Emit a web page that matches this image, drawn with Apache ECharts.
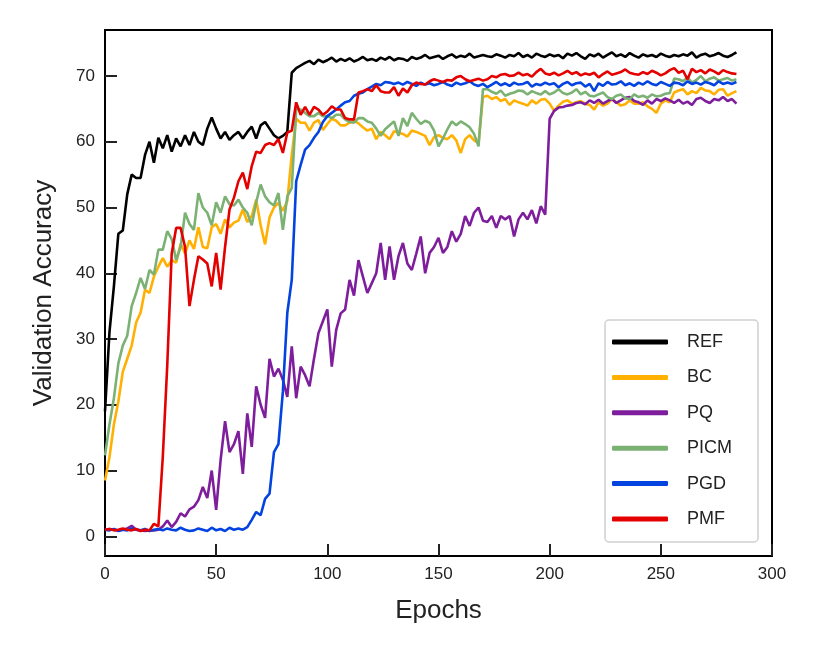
<!DOCTYPE html>
<html>
<head>
<meta charset="utf-8">
<script src="https://cdn.jsdelivr.net/npm/echarts@6/dist/echarts.min.js"></script>
<style>
  html, body { margin: 0; padding: 0; background: #fff; }
  #chart { width: 822px; height: 658px; }
</style>
</head>
<body>
<div id="chart"></div>
<script>
// values read every 2 epochs, 0..284
var epochStep = 2;
var names = ['REF', 'BC', 'PQ', 'PICM', 'PGD', 'PMF'];
var colors = ['#000000', '#ffb000', '#7e1e9c', '#7bb274', '#0343df', '#e50000'];
var yTicks = [0, 10, 20, 30, 40, 50, 60, 70];

var ref = [
  19, 31, 38, 46, 46.5,  52, 55, 54.5, 54.5, 58,  60, 56.8, 60.6, 59, 61,
  58.5, 60.5, 59.3, 61, 59.5,  61.5, 60, 59.5, 62, 63.7,  62, 60.5, 61.5, 60.3, 61,
  61.5, 60.5, 61.5, 62.3, 60.5,  62.5, 63, 62, 61, 60.5,  60.9, 61.5, 70.5, 71.2, 71.6,
  72, 72.3, 71.8, 72.5, 72.1,  72.4, 72.8, 72.2, 72.6, 72.3,  72.7, 72.2, 72.5, 72.9, 72.4,
  72.6, 72.3, 72.8, 72.5, 72.9,  72.4, 72.7, 72.6, 72.3, 72.9,  72.6, 72.8, 73.2, 72.7, 72.9,
  73.1, 72.6, 73, 73.3, 72.8,  73.1, 72.9, 73.4, 72.8, 73,  73.2, 73, 72.9, 73.3, 73.1,
  72.8, 73.2, 73, 73.5, 72.9,  73.2, 72.8, 73.4, 73.1, 72.9,  73.3, 73, 73.2, 72.7, 73.4,
  73.1, 73.5, 73, 72.6, 73.3,  73, 73.4, 72.8, 73.2, 73.6,  73, 73.3, 72.9, 73.5, 73.1,
  72.8, 73.3, 73, 73.2, 72.9,  73.4, 73.1, 72.9, 73.2, 73,  73.3, 73.1, 73.6, 72.8, 73.2,
  73.4, 73, 73.2, 73.5, 73.1,  72.9, 73.2, 73.6
];
var bc = [
  8.5, 12, 17, 20.5, 25,  27, 29, 32.5, 34, 37.5,  37, 39.5, 41, 42.3, 41,
  42, 41.6, 44.5, 43, 45,  43.7, 47, 44, 43.8, 47,  47.5, 46, 48.2, 47, 47.7,
  48, 49.7, 47.8, 48.7, 51.2,  47.3, 44.4, 48.5, 50, 50.7,  49.5, 51, 58, 63.5, 62.9,
  62.9, 61.7, 62.9, 63.3, 61.8,  62.7, 63.5, 63.2, 62.5, 62.5,  62.9, 63.2, 62.8, 62.2, 61.7,
  62, 60.4, 61.5, 61, 60.4,  61.6, 61.4, 61.2, 60.8, 61.7,  61.5, 61.2, 60.9, 59.5, 60.7,
  61, 60.6, 60.4, 61, 60.2,  58.3, 60.4, 61, 60.2, 59.8,  66.8, 67, 66.5, 66.8, 66.2,
  66.5, 65.6, 66.3, 66, 65.8,  65.5, 66.3, 65.8, 66.4, 66.5,  65.8, 64.7, 65.5, 66.1, 66.3,
  65.8, 66, 66.2, 65.8, 65.6,  64.9, 66, 65.5, 65.8, 66.5,  66, 65.5, 65.7, 66.3, 65.8,
  65.8, 66, 65.4, 65, 64.4,  65.8, 66.3, 66, 67.5, 67.8,  68, 67.2, 67.7, 67.4, 68.2,
  67.8, 67.7, 67.2, 67.9, 68,  67, 67.4, 67.7
];
var pq = [
  1, 1.1, 1, 0.9, 1,  1.2, 1.6, 1, 0.9, 0.8,  0.9, 0.9, 1, 1.5, 2.4,
  1.4, 2.2, 3.5, 3, 4.1,  4.5, 5.5, 7.5, 5.8, 10,  4, 11.6, 17.5, 12.8, 14,
  16, 9.5, 18.7, 13.6, 22.8,  20, 18, 27, 24.3, 25.5,  23.8, 21.2, 28.9, 21, 25.8,
  24.5, 22.8, 27, 30.9, 32.7,  34.5, 25.8, 31.4, 33.9, 34.5,  39, 36.6, 42, 39.5, 37,
  38.5, 40, 44.6, 39, 44.1,  39, 42.6, 44.6, 41.5, 40.5,  43, 45.6, 40, 43.1, 44,
  45.4, 43.1, 44, 46.4, 44.8,  46, 48.7, 47.2, 49.2, 50,  48, 47.8, 48.7, 46.9, 48.7,
  48.2, 48.7, 45.6, 48.2, 49.2,  48.2, 49.6, 47.6, 50.2, 48.9,  63.5, 64.7, 65.2, 65.3, 65.5,
  65.6, 65.9, 66, 65.7, 66.3,  65.9, 66.4, 65.8, 66.2, 66.5,  65.9, 66.3, 66.7, 66.8, 66.2,
  66, 65.6, 66.3, 65.8, 66.5,  66.2, 66.6, 66.3, 65.9, 66.4,  65.8, 66.1, 65.6, 66.5, 66.7,
  66.2, 65.9, 66.5, 66.3, 66.8,  66.2, 66.5, 65.8
];
var picm = [
  12.3, 17, 21, 26.3, 29,  30.5, 35, 37, 39.3, 37.6,  40.5, 39.8, 43.6, 43.6, 46.4,
  45.2, 42, 44, 49.2, 47.5,  46.6, 52.2, 50, 49.2, 47.3,  50.8, 49.2, 51.7, 50.5, 50.3,
  51.2, 50, 49.2, 47.3, 50.8,  53.5, 51.7, 50.8, 50.3, 52.2,  46.6, 51.7, 53, 65, 64.9,
  64.4, 63.9, 63.9, 64.4, 63.9,  63.9, 63.6, 64.1, 64.1, 63.4,  63, 62.9, 63.6, 63.6, 63.1,
  62.9, 62, 60.9, 61.9, 62.5,  63.1, 60.9, 63.6, 62.4, 64.4,  63.5, 62.7, 63.2, 62.9, 61.7,
  59.3, 60.5, 61.9, 63.1, 62.5,  63.1, 62.7, 62.2, 61.2, 59.3,  68, 68, 67.6, 67.3, 67.8,
  67, 67.3, 67.5, 67.8, 67.7,  67.2, 67.7, 67.4, 67.2, 67.7,  67.2, 67.5, 68, 67.4, 67.2,
  67.5, 68, 67.2, 67.6, 67,  66.9, 67.2, 67.5, 66.8, 66.5,  67, 67.2, 66.6, 66.5, 67.2,
  66.8, 67, 66.7, 67.2, 66.9,  67, 67.3, 67.4, 69.6, 69.5,  69.2, 69.8, 69, 69.4, 70,
  69.2, 69.6, 69.8, 69.3, 69.5,  69.7, 69.3, 69.5
];
var pgd = [
  1, 0.9, 1.1, 0.8, 1,  0.9, 1.2, 1, 0.9, 1.1,  0.8, 1, 1.1, 0.9, 1.2,
  1, 0.9, 1.3, 1, 0.8,  0.9, 1.2, 1, 0.8, 1.3,  0.9, 1.1, 0.8, 1.3, 1,
  1.2, 1, 1.4, 2.5, 3.7,  3.2, 5.7, 6.5, 12.8, 14,  22, 34, 39, 54, 56.5,
  58.8, 59.5, 60.6, 61.5, 63,  63.9, 64.4, 64.9, 65.5, 66,  66.2, 67, 67.3, 67.5, 68,
  68.4, 68.8, 68.6, 69.1, 69,  68.8, 69, 68.7, 69.1, 68.8,  68.5, 69, 68.7, 68.9, 68.6,
  68.8, 69.1, 68.7, 68.5, 69,  68.7, 68.9, 69.2, 68.7, 68.5,  68.8, 68.3, 68.7, 69.1, 68.6,
  68.9, 68.5, 69, 68.7, 68.8,  69.1, 68.4, 68.8, 68.6, 69,  68.7, 68.9, 68.3, 68.8, 69.1,
  68.6, 68.9, 69, 68.4, 68.8,  67.7, 68.9, 68.5, 69.1, 68.7,  68.8, 69.2, 68.6, 68.9, 68.5,
  69, 68.7, 69.2, 68.8, 68.6,  69.1, 68.8, 68.5, 69, 68.9,  68.6, 69.2, 68.8, 69, 68.7,
  69.1, 68.9, 68.6, 69.2, 68.8,  69, 68.8, 69.1
];
var pmf = [
  1, 1.1, 0.9, 1, 1.2,  1, 0.9, 1.1, 0.8, 1,  0.9, 1.9, 1.5, 12.1, 26,
  43, 46.9, 46.9, 44, 35,  39, 42.6, 42.1, 41.5, 38,  43.1, 37.5, 44, 49.7, 51.5,
  54, 55.3, 52.8, 56.3, 58.5,  58.3, 59.5, 59.8, 59.5, 60.4,  58.3, 61.4, 61.7, 66, 64.1,
  65.3, 64.1, 65.3, 64.9, 64.1,  64.6, 65.4, 64.9, 64.9, 63.6,  63.4, 63.4, 67.5, 67.7, 68,
  67.7, 68.6, 67.7, 67.5, 67.5,  68.3, 67, 68.1, 67.5, 68.6,  69, 68.8, 68.7, 69.2, 69.5,
  69.3, 69.1, 69.4, 69.3, 69.8,  70, 69.5, 69.2, 69.4, 69.6,  69.3, 69.5, 70, 69.8, 70.2,
  70.3, 70, 70.1, 70.5, 70.1,  70.3, 69.9, 70.6, 71.1, 70.4,  70.2, 70.5, 70.1, 70.4, 70.8,
  70.3, 70.6, 70.1, 70.4, 70.2,  70.5, 69.8, 70.3, 70.7, 70.2,  70.4, 70.6, 71, 70.5, 70.3,
  70.2, 70.6, 70.3, 70.8, 70.5,  70.1, 70.4, 70.9, 71.2, 70.5,  70.8, 69.5, 71.1, 70.6, 70.9,
  70.4, 71, 70.7, 70.3, 70.9,  70.6, 70.4, 70.3
];
var allValues = [ref, bc, pq, picm, pgd, pmf];

var font = '"Liberation Sans", Arial, sans-serif';

function pairs(vals) {
    return vals.map(function (v, i) { return [i * epochStep, v]; });
}

var series = names.map(function (n, k) {
    return {
        name: n,
        type: 'line',
        data: pairs(allValues[k]),
        showSymbol: false,
        symbol: 'none',
        animation: false,
        lineStyle: { color: colors[k], width: 2.6 },
        itemStyle: { color: colors[k] }
    };
});

var chart = echarts.init(document.getElementById('chart'));
chart.setOption({
    backgroundColor: '#fff',
    grid: {
        left: 105, top: 30, width: 667, height: 526,
        show: true, borderColor: '#000', borderWidth: 2
    },
    legend: {
        orient: 'vertical',
        left: 605, top: 320,
        data: names,
        icon: 'roundRect',
        itemWidth: 56, itemHeight: 5,
        itemGap: 17.4,
        padding: [13, 26, 14, 7],
        backgroundColor: '#fff',
        borderColor: '#d0d0d0', borderWidth: 1.5, borderRadius: 4,
        textStyle: { fontFamily: font, fontSize: 18, color: '#222', padding: [0, 0, 0, 14] }
    },
    xAxis: {
        type: 'value',
        min: 0, max: 300, interval: 50,
        name: 'Epochs',
        nameLocation: 'middle',
        nameGap: 42,
        nameTextStyle: { fontFamily: font, fontSize: 26, color: '#222' },
        axisLine: { onZero: false, lineStyle: { color: '#000', width: 2 } },
        axisTick: { inside: true, length: 12, lineStyle: { color: '#222', width: 2 } },
        axisLabel: { fontFamily: font, fontSize: 17, color: '#222', margin: 10 },
        splitLine: { show: false }
    },
    yAxis: {
        type: 'value',
        min: -3, max: 77,
        name: 'Validation Accuracy',
        nameLocation: 'middle',
        nameGap: 48,
        nameTextStyle: { fontFamily: font, fontSize: 26, color: '#222' },
        axisLine: { lineStyle: { color: '#000', width: 2 } },
        axisTick: { inside: true, length: 12, customValues: yTicks, lineStyle: { color: '#222', width: 2 } },
        axisLabel: { fontFamily: font, fontSize: 17, color: '#222', margin: 10, customValues: yTicks },
        splitLine: { show: false }
    },
    series: series
});
</script>
</body>
</html>
